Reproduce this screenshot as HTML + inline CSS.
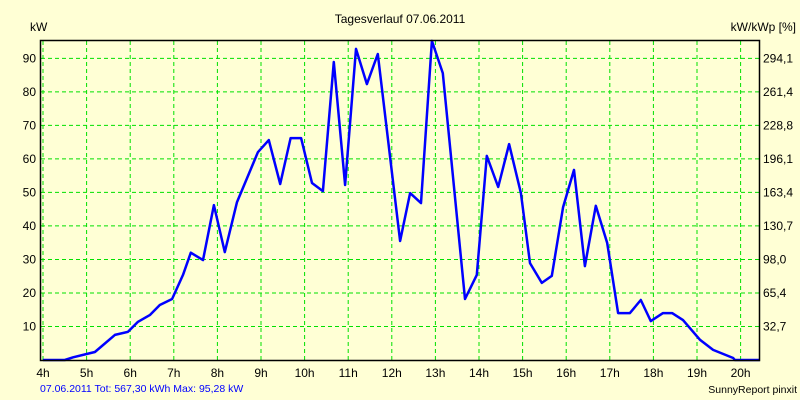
<!DOCTYPE html>
<html><head><meta charset="utf-8">
<style>
html,body{margin:0;padding:0;background:#ffffd5;}
svg{display:block;font-family:"Liberation Sans",sans-serif;}
</style></head>
<body>
<svg id="chart" width="800" height="400" viewBox="0 0 800 400" xmlns="http://www.w3.org/2000/svg">
<rect x="0" y="0" width="800" height="400" fill="#ffffd5"/>
<text x="400" y="23" font-size="12" text-anchor="middle" fill="#000">Tagesverlauf 07.06.2011</text>
<text x="30" y="31" font-size="12" fill="#000">kW</text>
<text x="796" y="31" font-size="12" text-anchor="end" fill="#000">kW/kWp [%]</text>
<g id="grid"></g>
<g id="ticks"></g>
<polyline id="series" fill="none" stroke="#0000ff" stroke-width="2.5" stroke-linejoin="round"/>
<path d="M40.5 40.5 H759.5 V360.5 H40.5 Z" fill="none" stroke="#000" stroke-width="1.5"/>
<text x="40" y="392" font-size="10.5" fill="#0000ff">07.06.2011 Tot: 567,30 kWh Max: 95,28 kW</text>
<text x="797" y="393" font-size="10.5" text-anchor="end" fill="#000">SunnyReport pinxit</text>
</svg>
<script>
const hourTicks = [4,5,6,7,8,9,10,11,12,13,14,15,16,17,18,19,20];
const kwTicks = [10,20,30,40,50,60,70,80,90];
const pctLabels = ["32,7","65,4","98,0","130,7","163,4","196,1","228,8","261,4","294,1"];
const times = [4.0,4.5,4.69,5.0,5.19,5.65,5.95,6.18,6.45,6.68,6.96,7.21,7.39,7.67,7.92,8.17,8.45,8.93,9.18,9.44,9.68,9.92,10.17,10.42,10.67,10.93,11.18,11.43,11.68,12.19,12.42,12.67,12.92,13.17,13.68,13.95,14.18,14.44,14.69,14.96,15.17,15.44,15.67,15.93,16.18,16.43,16.68,16.94,17.19,17.46,17.71,17.94,18.22,18.43,18.68,19.07,19.37,19.83,19.87,20.44];
const power = [0,0,0.8,1.8,2.4,7.5,8.4,11.4,13.4,16.4,18.2,25.4,32.0,29.8,46.2,32.2,47.1,62,65.6,52.5,66.2,66.2,52.8,50.4,88.9,52.2,92.8,82.3,91.3,35.5,49.8,46.8,95.2,85.6,18.2,25.4,60.9,51.6,64.4,49.8,28.9,23,25.1,45.6,56.7,28,46,34.9,14,14,17.9,11.6,14,14,11.9,6,3,0.6,0,0];

const NS = "http://www.w3.org/2000/svg";
const x = h => 43 + (h - 4) * 43.6;
const y = v => 360 - v * 3.352;
const grid = document.getElementById('grid');
const ticks = document.getElementById('ticks');
function mk(tag, attrs, parent){const e=document.createElementNS(NS,tag);for(const k in attrs)e.setAttribute(k,attrs[k]);parent.appendChild(e);return e;}
hourTicks.forEach(h=>{
  const l = mk('line',{x1:x(h),x2:x(h),y1:41,y2:360,stroke:'#00e000','stroke-width':1,'stroke-dasharray':'4,3'},grid);
  
  
  const t = mk('text',{x:x(h),y:377,'font-size':12,'text-anchor':'middle',fill:'#000'},ticks);
  t.textContent = h + 'h';
  
  
});
kwTicks.forEach((v,i)=>{
  const l = mk('line',{x1:41,x2:759,y1:y(v),y2:y(v),stroke:'#00e000','stroke-width':1,'stroke-dasharray':'4,3'},grid);
  
  
  const t = mk('text',{x:36,y:y(v)+4,'font-size':12,'text-anchor':'end',fill:'#000'},ticks);
  t.textContent = v;
  
  
  const r = mk('text',{x:763,y:y(v)+4,'font-size':12,fill:'#000'},ticks);
  r.textContent = pctLabels[i];
  
  
});
document.getElementById('series').setAttribute('points', times.map((t,i)=>x(t).toFixed(1)+','+y(power[i]).toFixed(1)).join(' '));
</script>
</body></html>
